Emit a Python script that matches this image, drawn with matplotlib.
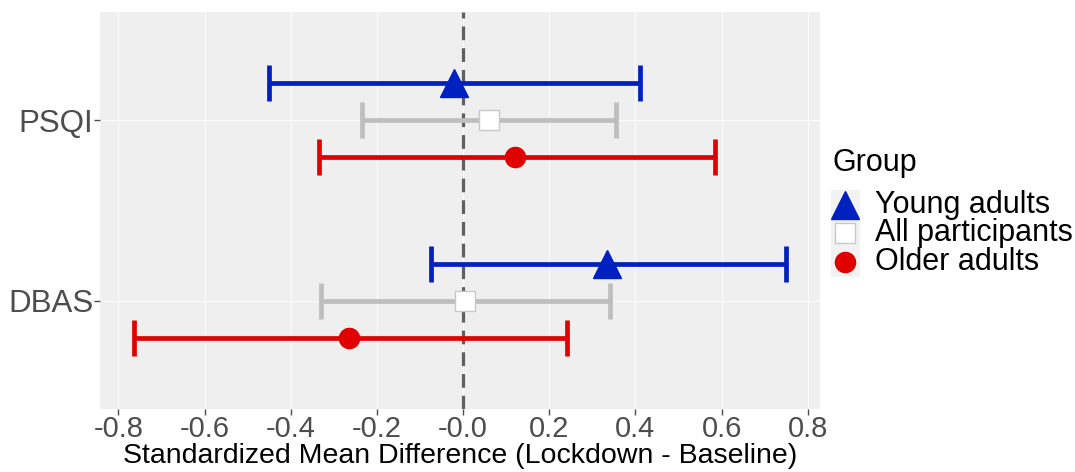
import numpy as np
import matplotlib.pyplot as plt
from matplotlib.lines import Line2D
from matplotlib.patches import Rectangle

plt.rcParams['font.family'] = ['Liberation Sans', 'DejaVu Sans']

measures = ['DBAS', 'PSQI']
groups = ['Young adults', 'All participants', 'Older adults']
# point estimates and CI bounds, per group, order = measures
smd = {
    'Young adults':     [0.335, -0.02],
    'All participants': [0.005, 0.06],
    'Older adults':     [-0.265, 0.12],
}
lower = {
    'Young adults':     [-0.075, -0.45],
    'All participants': [-0.33, -0.235],
    'Older adults':     [-0.765, -0.335],
}
upper = {
    'Young adults':     [0.75, 0.41],
    'All participants': [0.34, 0.355],
    'Older adults':     [0.24, 0.585],
}

colores = {'Young adults': '#0020BF', 'All participants': '#BEBEBE', 'Older adults': '#E00000'}
marcas = {'Young adults': '^', 'All participants': 's', 'Older adults': 'o'}
tam = {'Young adults': 20, 'All participants': 14, 'Older adults': 14.5}
desp = {'Young adults': 0.205, 'All participants': 0.0, 'Older adults': -0.205}

W, H = 1075, 472
fig = plt.figure(figsize=(W / 100, H / 100), dpi=100)
ax = fig.add_axes([0.093, 0.134, 0.670, 0.840])
ax.set_facecolor('#EFEFEF')
for s in ax.spines.values():
    s.set_visible(False)

y_base = np.arange(len(measures))
ax.axvline(0, color='#606060', lw=2.3, ls=(0, (4.3, 2.5)), zorder=2)

for g in groups:
    y = y_base + desp[g]
    x = np.array(smd[g])
    err = [x - np.array(lower[g]), np.array(upper[g]) - x]
    ax.errorbar(x, y, xerr=err, fmt='none', ecolor=colores[g], elinewidth=3.4,
                capsize=13, capthick=3.4, zorder=3)
    if g == 'All participants':
        ax.plot(x, y, ls='none', marker='s', ms=tam[g], mfc='white', mec='#C8C8C8', mew=1, zorder=4)
    else:
        ax.plot(x, y, ls='none', marker=marcas[g], ms=tam[g], color=colores[g], zorder=4)

ax.set_xlim(-0.843, 0.829)
ax.set_ylim(-0.6, 1.6)
ax.set_xticks(np.arange(-0.8, 0.81, 0.2))
ax.set_xticklabels(['%.1f' % v for v in np.arange(-0.8, 0.81, 0.2)])
ax.set_yticks(y_base)
ax.set_yticklabels(measures)
ax.grid(True, color='white', lw=0.6, zorder=0)
ax.set_axisbelow(True)
ax.tick_params(axis='x', labelsize=21, colors='#4D4D4D', length=4, width=1, pad=0.5)
ax.tick_params(axis='y', labelsize=22.5, colors='#4D4D4D', length=4, width=1, pad=1)
for t in ax.get_xticklines() + ax.get_yticklines():
    t.set_color('#333333')
ax.set_xlabel('Standardized Mean Difference (Lockdown - Baseline)', fontsize=20.5, labelpad=0)

# leyenda a mano (pixeles de la figura)
fig.text(832 / W, 1 - 163 / H, 'Group', fontsize=22, va='center', ha='left')
fig.patches.append(Rectangle((831 / W, 1 - 277 / H), 29 / W, 87 / H, transform=fig.transFigure,
                             facecolor='#F2F2F2', edgecolor='none'))
filas = [205, 233.5, 262]
for g, yy in zip(groups, filas):
    if g == 'All participants':
        h = Line2D([845 / W], [1 - yy / H], ls='none', marker='s', ms=tam[g], mfc='white',
                   mec='#C8C8C8', mew=1, transform=fig.transFigure)
    else:
        h = Line2D([845 / W], [1 - yy / H], ls='none', marker=marcas[g], ms=tam[g],
                   color=colores[g], transform=fig.transFigure)
    fig.lines.append(h)
    fig.text(875 / W, 1 - yy / H, g, fontsize=22, va='center', ha='left')

fig.savefig('out.png', dpi=100)
